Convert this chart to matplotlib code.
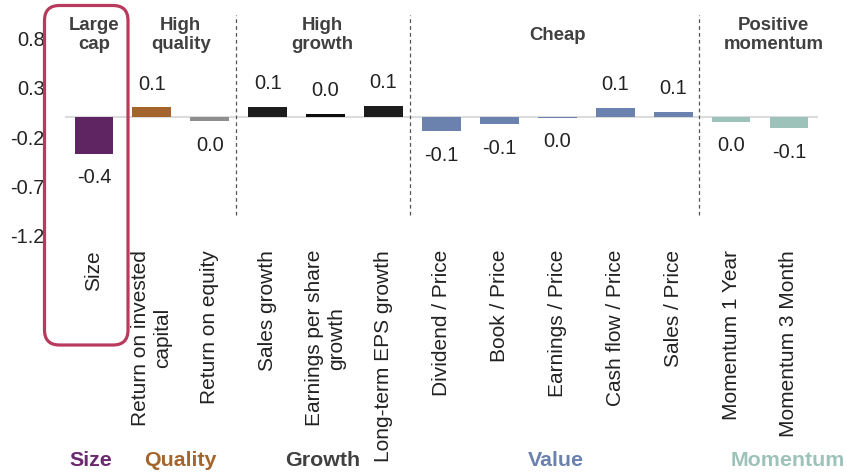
import matplotlib
matplotlib.use("Agg")
import matplotlib.pyplot as plt
import matplotlib.transforms as mtransforms
from matplotlib.patches import FancyBboxPatch

plt.rcParams['font.family'] = ['Liberation Sans', 'DejaVu Sans']

categories = ["Size", "Return on invested\ncapital", "Return on equity",
              "Sales growth", "Earnings per share\ngrowth", "Long-term EPS growth",
              "Dividend / Price", "Book / Price", "Earnings / Price",
              "Cash flow / Price", "Sales / Price", "Momentum 1 Year", "Momentum 3 Month"]
values = [-0.37, 0.105, -0.04, 0.11, 0.035, 0.12,
          -0.14, -0.07, -0.003, 0.10, 0.06, -0.045, -0.11]
bar_colors = ["#5f2562", "#a4652d", "#8e8e8e", "#1c1c1c", "#0c0c0c", "#1c1c1c",
              "#6a82ad", "#6a82ad", "#6a82ad", "#6a82ad", "#6a82ad", "#9cc2b9", "#9cc2b9"]

headers = ["Large\ncap", "High\nquality", "High\ngrowth", "Cheap", "Positive\nmomentum"]
header_x = [0, 1.5, 3.95, 8, 11.73]
groups = ["Size", "Quality", "Growth", "Value", "Momentum"]
group_x = [-0.05, 1.5, 3.95, 7.97, 11.98]
group_colors = ["#6b2a6f", "#a4652d", "#404040", "#6a82ad", "#9cc2b9"]
dividers = [2.45, 5.45, 10.45]
yticks = [0.8, 0.3, -0.2, -0.7, -1.2]

fig = plt.figure(figsize=(8.47, 4.74), dpi=100)
ax = fig.add_axes([0.0767, 0.4835, 0.889, 0.488])

x = list(range(len(categories)))
ax.bar(x, values, width=0.67, color=bar_colors, zorder=2)
ax.axhline(0, color="#dcdcdc", lw=1.5, zorder=1)

for xi, v in zip(x, values):
    lab = "%.1f" % v
    if lab == "-0.0":
        lab = "0.0"
    off = 23 if v >= 0 else -24
    ax.annotate(lab, (xi, v), xytext=(0, off), textcoords="offset pixels",
                ha="center", va="center", fontsize=14.4, color="#222222")

for d in dividers:
    ax.vlines(d, -1.0, 1.045, colors="#555555", linestyles=(0, (3, 2.5)), lw=0.9, clip_on=False)

ax.set_xlim(-0.5, 12.5)
ax.set_ylim(-1.3, 1.06)
ax.set_yticks(yticks)
ax.set_yticklabels(["%.1f" % t for t in yticks])
ax.set_xticks(x)
ax.set_xticklabels(categories, rotation=90, multialignment="center")
ax.tick_params(axis="y", length=0, pad=14.4, labelsize=14.4, labelcolor="#222222")
ax.tick_params(axis="x", length=0, pad=3.7, labelsize=15, labelcolor="#222222")
for s in ax.spines.values():
    s.set_visible(False)

trans = mtransforms.blended_transform_factory(ax.transData, fig.transFigure)
for h, hx in zip(headers, header_x):
    ax.text(hx, 0.926, h, transform=trans, ha="center", va="center", fontsize=13.4,
            fontweight="bold", color="#404040", linespacing=1.18, clip_on=False)
for g, gx, gc in zip(groups, group_x, group_colors):
    ax.text(gx, 0.0295, g, transform=trans, ha="center", va="center", fontsize=15.4,
            fontweight="bold", color=gc, clip_on=False)

box = FancyBboxPatch((0.445, 1.29), 0.835, 3.395, boxstyle="round,pad=0,rounding_size=0.15",
                     transform=fig.dpi_scale_trans, fill=False, edgecolor="#b83b5e",
                     lw=2.3, zorder=10)
fig.add_artist(box)

fig.savefig("out.png", dpi=100)
